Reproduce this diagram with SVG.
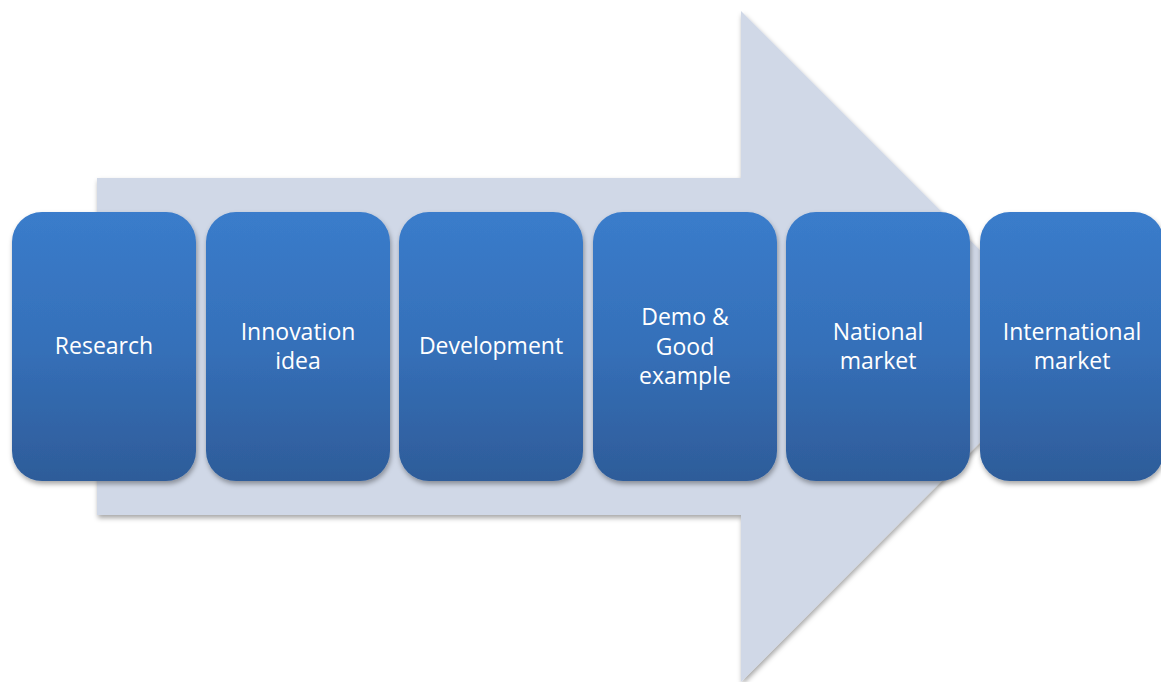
<svg xmlns="http://www.w3.org/2000/svg" width="1161" height="682" viewBox="0 0 1161 682">
<defs>
<linearGradient id="g" x1="0" y1="0" x2="0" y2="1">
<stop offset="0" stop-color="#3a7ccb"/>
<stop offset="0.5" stop-color="#3570b9"/>
<stop offset="1" stop-color="#2e5c99"/>
</linearGradient>
<filter id="sh" x="-10%" y="-10%" width="120%" height="120%">
<feDropShadow dx="1" dy="3" stdDeviation="2.5" flood-color="#000" flood-opacity="0.35"/>
</filter>
</defs>
<style>
.box{fill:url(#g);filter:url(#sh)}
.t{font-family:"Open Sans","Noto Sans",sans-serif;font-size:23px;fill:#fff;text-anchor:middle}
</style>
<rect width="1161" height="682" fill="#fff"/>
<g id="arrow">
<path d="M97,178 H741 V11 L1076,346 L741,682 V515 H97 Z" fill="#d0d8e7" filter="url(#sh)"/>
</g>
<g id="n1"><rect class="box" x="12" y="212" width="184" height="269" rx="30"/><text class="t" x="104" y="354">Research</text></g>
<g id="n2"><rect class="box" x="206" y="212" width="184" height="269" rx="30"/><text class="t" x="298" y="340">Innovation</text><text class="t" x="298" y="369">idea</text></g>
<g id="n3"><rect class="box" x="399" y="212" width="184" height="269" rx="30"/><text class="t" x="491" y="354">Development</text></g>
<g id="n4"><rect class="box" x="593" y="212" width="184" height="269" rx="30"/><text class="t" x="685" y="325">Demo &amp;</text><text class="t" x="685" y="355">Good</text><text class="t" x="685" y="384">example</text></g>
<g id="n5"><rect class="box" x="786" y="212" width="184" height="269" rx="30"/><text class="t" x="878" y="340">National</text><text class="t" x="878" y="369">market</text></g>
<g id="n6"><rect class="box" x="980" y="212" width="184" height="269" rx="30"/><text class="t" x="1072" y="340">International</text><text class="t" x="1072" y="369">market</text></g>
<g id="connectors"></g>
</svg>
